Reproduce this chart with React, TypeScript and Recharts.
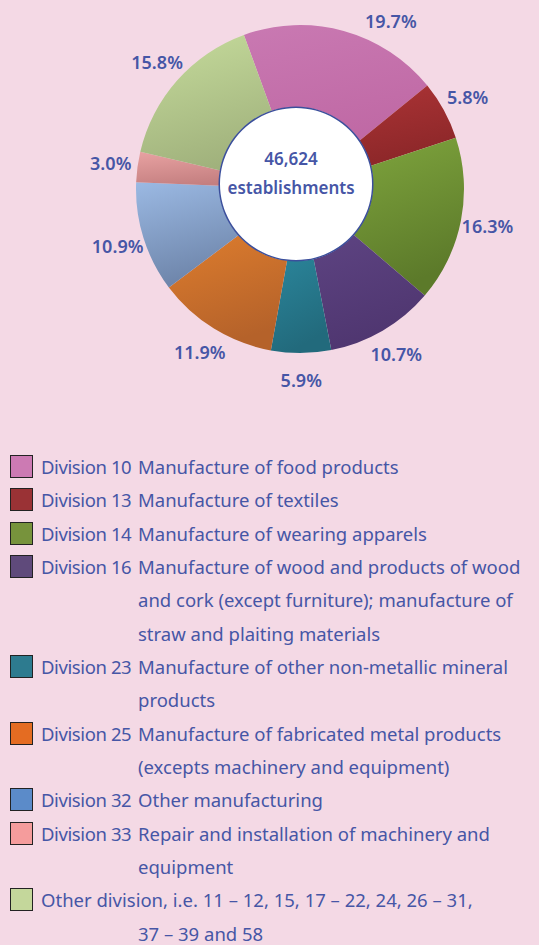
import { PieChart, Pie, Cell, Label } from 'recharts';

const categories = [
  'Division 10', 'Division 13', 'Division 14', 'Division 16', 'Division 23',
  'Division 25', 'Division 32', 'Division 33', 'Other division',
];
const shares = [19.7, 5.8, 16.3, 10.7, 5.9, 11.9, 10.9, 3.0, 15.8];
const totalLabel = '46,624';
const totalUnit = 'establishments';

// light -> dark shading for each slice
const sliceTop = ['#c979b2', '#ad3436', '#80a63e', '#5f4584', '#2c8aa0', '#e2802e', '#9bb9e3', '#e8a2a2', '#c6dc9c'];
const sliceBottom = ['#bf68a4', '#8a2628', '#5c7a2a', '#4f3670', '#226a7c', '#b5622a', '#6d84a9', '#c47f80', '#a0b17c'];
const swatchColors = ['#cc7ab3', '#9a3235', '#77933c', '#5f4a7b', '#2d7b8f', '#e46c22', '#5b8bc9', '#f59c9c', '#c4d79b'];

const legendHeads = [
  'Division 10', 'Division 13', 'Division 14', 'Division 16', 'Division 23',
  'Division 25', 'Division 32', 'Division 33', '',
];
const legendLines = [
  ['Manufacture of food products'],
  ['Manufacture of textiles'],
  ['Manufacture of wearing apparels'],
  ['Manufacture of wood and products of wood', 'and cork (except furniture); manufacture of', 'straw and plaiting materials'],
  ['Manufacture of other non-metallic mineral', 'products'],
  ['Manufacture of fabricated metal products', '(excepts machinery and equipment)'],
  ['Other manufacturing'],
  ['Repair and installation of machinery and', 'equipment'],
  ['Other division, i.e.  11 \u2013 12, 15, 17 \u2013 22, 24, 26 \u2013 31,', '37 \u2013 39 and 58'],
];

const data = categories.map((name, i) => ({ name, value: shares[i] }));
const hole = [{ name: 'total', value: 1 }];

const BG = '#f4d9e5';
const TEXT = '#4656a6';
const FONT = '"Noto Sans", "DejaVu Sans", sans-serif';
const RAD = Math.PI / 180;
const HOLE_X = 291;
const HOLE_Y = 179;

function renderPct(props: any) {
  const { cx, cy, midAngle, outerRadius, index } = props;
  const r = outerRadius + 27;
  let x = cx + r * Math.cos(-midAngle * RAD);
  let y = cy + r * Math.sin(-midAngle * RAD);
  const minY = 21;
  if (y < minY) {
    // slide along the label ring so it stays on the page
    y = minY;
    const dy = cy - minY;
    x = cx + Math.sign(x - cx) * Math.sqrt(Math.max(r * r - dy * dy, 0));
  }
  return (
    <text
      key={`pct-${index}`}
      x={x}
      y={y}
      textAnchor="middle"
      dominantBaseline="central"
      fill={TEXT}
      fontFamily={FONT}
      fontSize={18}
      fontWeight={600}
    >
      {shares[index].toFixed(1)}%
    </text>
  );
}

function CenterText() {
  return (
    <g fontFamily={FONT} fontSize={17} textAnchor="middle">
      <text x={HOLE_X} y={HOLE_Y - 21} dominantBaseline="central" fill={TEXT} fontWeight={600}>{totalLabel}</text>
      <text x={HOLE_X} y={HOLE_Y + 8} dominantBaseline="central" fill={TEXT} fontWeight={600}>{totalUnit}</text>
    </g>
  );
}

export default function App() {
  return (
    <div style={{ position: 'absolute', left: 0, top: 0, width: 539, height: 945, background: BG, overflow: 'hidden' }}>
      <PieChart width={539} height={400}>
        <defs>
          {sliceTop.map((c, i) => (
            <linearGradient key={i} id={`slice${i}`} x1="0" y1="0" x2="0.3" y2="1">
              <stop offset="0%" stopColor={c} />
              <stop offset="100%" stopColor={sliceBottom[i]} />
            </linearGradient>
          ))}
        </defs>
        <Pie
          data={data}
          dataKey="value"
          cx={295}
          cy={184}
          outerRadius={164}
          innerRadius={50}
          startAngle={110}
          endAngle={-250}
          stroke="none"
          label={renderPct}
          labelLine={false}
          isAnimationActive={false}
        >
          {data.map((d, i) => (
            <Cell key={d.name} fill={`url(#slice${i})`} />
          ))}
        </Pie>
        <Pie
          data={hole}
          dataKey="value"
          cx={HOLE_X}
          cy={HOLE_Y}
          outerRadius={77}
          innerRadius={0}
          fill="#ffffff"
          stroke="none"
          isAnimationActive={false}
        >
          <Label content={CenterText} position="center" />
        </Pie>
        <Pie
          data={hole}
          dataKey="value"
          cx={HOLE_X}
          cy={HOLE_Y}
          outerRadius={77.5}
          innerRadius={76}
          fill="#3b4f9c"
          stroke="none"
          isAnimationActive={false}
        />
      </PieChart>

      <div style={{ position: 'absolute', left: 0, top: 450, width: 539, fontFamily: FONT, fontSize: 18.5, color: TEXT, lineHeight: '33.33px' }}>
        {legendLines.map((lines, i) => (
          <div key={i} style={{ position: 'relative' }}>
            <div
              style={{
                position: 'absolute',
                left: 10,
                top: 5,
                width: 23,
                height: 23,
                background: swatchColors[i],
                border: '1.5px solid #222',
                boxSizing: 'border-box',
              }}
            />
            {lines.map((line, j) => (
              <div key={j} style={{ whiteSpace: 'nowrap', paddingLeft: j === 0 ? 41 : 138 }}>
                {j === 0 && legendHeads[i] ? (
                  <>
                    <span style={{ display: 'inline-block', width: 97, letterSpacing: -0.4 }}>{legendHeads[i]}</span>
                    {line}
                  </>
                ) : (
                  line
                )}
              </div>
            ))}
          </div>
        ))}
      </div>
    </div>
  );
}
